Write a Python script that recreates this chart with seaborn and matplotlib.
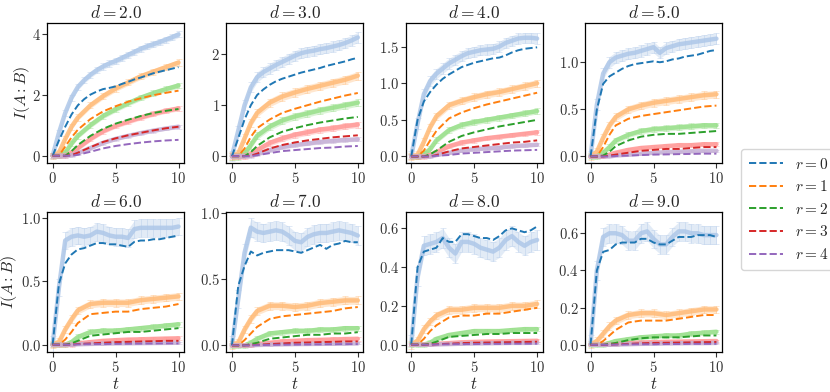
import numpy as np
import matplotlib
matplotlib.use("Agg")
import matplotlib.pyplot as plt
import seaborn as sns

# ---------------- data ----------------
t_fine = [0, 0.5, 1, 1.5, 2, 2.5, 3, 3.5, 4, 4.5, 5, 5.5, 6, 6.5, 7, 7.5, 8, 8.5, 9, 9.5, 10]
t_coarse = [0, 0.5, 1, 1.5, 2, 3, 4, 5, 6, 7, 8, 9, 10]
d_values = [2.0, 3.0, 4.0, 5.0, 6.0, 7.0, 8.0, 9.0]
r_values = [0, 1, 2, 3, 4]

# simulated (light bands): r=0 on t_fine, r>=1 on t_coarse
sim_d2 = [[0, 0.75, 1.4, 1.9, 2.25, 2.47, 2.65, 2.8, 2.92, 3.02, 3.1, 3.2, 3.3, 3.4, 3.5, 3.58, 3.65, 3.72, 3.8, 3.88, 3.97],
          [0, 0.1, 0.55, 0.95, 1.25, 1.65, 1.95, 2.2, 2.4, 2.6, 2.75, 2.9, 3.05],
          [0, 0, 0.1, 0.4, 0.65, 1.0, 1.3, 1.52, 1.72, 1.9, 2.05, 2.18, 2.3],
          [0, 0, 0, 0.1, 0.25, 0.55, 0.8, 0.98, 1.12, 1.25, 1.37, 1.47, 1.55],
          [0, 0, 0, 0.02, 0.08, 0.25, 0.42, 0.55, 0.65, 0.74, 0.82, 0.89, 0.95]]
sim_d3 = [[0, 0.5, 1.0, 1.35, 1.55, 1.65, 1.72, 1.79, 1.85, 1.91, 1.97, 2.02, 2.05, 2.07, 2.1, 2.12, 2.15, 2.18, 2.22, 2.27, 2.33],
          [0, 0.05, 0.35, 0.65, 0.85, 1.05, 1.17, 1.25, 1.32, 1.38, 1.44, 1.5, 1.58],
          [0, 0, 0.05, 0.22, 0.4, 0.58, 0.7, 0.78, 0.84, 0.9, 0.95, 1.0, 1.05],
          [0, 0, 0, 0.04, 0.12, 0.26, 0.35, 0.42, 0.47, 0.52, 0.55, 0.59, 0.62],
          [0, 0, 0, 0.01, 0.04, 0.12, 0.18, 0.22, 0.25, 0.28, 0.3, 0.32, 0.33]]
sim_d4 = [[0, 0.45, 0.85, 1.03, 1.13, 1.2, 1.27, 1.32, 1.37, 1.41, 1.43, 1.45, 1.46, 1.47, 1.5, 1.55, 1.58, 1.61, 1.62, 1.62, 1.61],
          [0, 0.02, 0.2, 0.4, 0.55, 0.7, 0.76, 0.81, 0.85, 0.88, 0.92, 0.96, 1.0],
          [0, 0, 0.03, 0.1, 0.22, 0.36, 0.43, 0.47, 0.5, 0.53, 0.56, 0.59, 0.62],
          [0, 0, 0, 0.02, 0.06, 0.14, 0.19, 0.22, 0.25, 0.27, 0.29, 0.31, 0.33],
          [0, 0, 0, 0, 0.02, 0.05, 0.08, 0.1, 0.11, 0.12, 0.14, 0.15, 0.16]]
sim_d5 = [[0, 0.55, 0.88, 1.0, 1.05, 1.07, 1.09, 1.1, 1.12, 1.14, 1.16, 1.1, 1.15, 1.17, 1.19, 1.2, 1.21, 1.22, 1.23, 1.24, 1.25],
          [0, 0.05, 0.2, 0.33, 0.42, 0.5, 0.54, 0.57, 0.59, 0.61, 0.63, 0.65, 0.66],
          [0, 0, 0.04, 0.1, 0.17, 0.23, 0.27, 0.29, 0.3, 0.31, 0.32, 0.33, 0.33],
          [0, 0, 0, 0.02, 0.04, 0.07, 0.09, 0.1, 0.11, 0.12, 0.12, 0.13, 0.13],
          [0, 0, 0, 0, 0.01, 0.02, 0.03, 0.04, 0.045, 0.05, 0.055, 0.06, 0.06]]
sim_d6 = [[0, 0.45, 0.82, 0.85, 0.86, 0.85, 0.86, 0.89, 0.88, 0.86, 0.85, 0.85, 0.84, 0.91, 0.92, 0.92, 0.92, 0.92, 0.92, 0.92, 0.93],
          [0, 0.02, 0.12, 0.2, 0.27, 0.32, 0.33, 0.33, 0.33, 0.35, 0.36, 0.37, 0.38],
          [0, 0, 0, 0.02, 0.06, 0.1, 0.11, 0.11, 0.12, 0.13, 0.14, 0.15, 0.16],
          [0, 0, 0, 0, 0.01, 0.02, 0.03, 0.035, 0.04, 0.042, 0.045, 0.048, 0.05],
          [0, 0, 0, 0, 0.003, 0.006, 0.008, 0.01, 0.011, 0.012, 0.013, 0.014, 0.015]]
sim_d7 = [[0, 0.35, 0.7, 0.89, 0.86, 0.85, 0.86, 0.87, 0.86, 0.83, 0.79, 0.78, 0.82, 0.84, 0.85, 0.85, 0.86, 0.87, 0.86, 0.85, 0.83],
          [0, 0.02, 0.12, 0.2, 0.26, 0.3, 0.3, 0.29, 0.3, 0.32, 0.33, 0.34, 0.34],
          [0, 0, 0, 0.02, 0.05, 0.09, 0.1, 0.11, 0.11, 0.12, 0.12, 0.13, 0.13],
          [0, 0, 0, 0, 0.01, 0.02, 0.03, 0.035, 0.04, 0.042, 0.045, 0.048, 0.05],
          [0, 0, 0, 0, 0.003, 0.006, 0.008, 0.01, 0.011, 0.012, 0.013, 0.014, 0.015]]
sim_d8 = [[0, 0.35, 0.51, 0.52, 0.53, 0.55, 0.5, 0.47, 0.53, 0.53, 0.52, 0.5, 0.49, 0.48, 0.5, 0.54, 0.56, 0.53, 0.51, 0.53, 0.54],
          [0, 0.02, 0.08, 0.12, 0.15, 0.18, 0.18, 0.19, 0.19, 0.19, 0.2, 0.2, 0.21],
          [0, 0, 0, 0.01, 0.03, 0.05, 0.06, 0.07, 0.07, 0.07, 0.075, 0.08, 0.08],
          [0, 0, 0, 0, 0.004, 0.008, 0.012, 0.014, 0.016, 0.017, 0.018, 0.019, 0.02],
          [0, 0, 0, 0, 0.001, 0.003, 0.005, 0.006, 0.007, 0.008, 0.009, 0.009, 0.01]]
sim_d9 = [[0, 0.4, 0.58, 0.6, 0.6, 0.59, 0.56, 0.56, 0.6, 0.61, 0.57, 0.54, 0.54, 0.58, 0.61, 0.61, 0.6, 0.6, 0.59, 0.59, 0.59],
          [0, 0.02, 0.06, 0.1, 0.13, 0.16, 0.17, 0.17, 0.16, 0.17, 0.18, 0.19, 0.19],
          [0, 0, 0, 0.01, 0.02, 0.03, 0.04, 0.045, 0.05, 0.05, 0.06, 0.065, 0.07],
          [0, 0, 0, 0, 0.004, 0.008, 0.012, 0.014, 0.016, 0.017, 0.018, 0.019, 0.02],
          [0, 0, 0, 0, 0.001, 0.003, 0.005, 0.006, 0.007, 0.008, 0.009, 0.009, 0.01]]

# approximation (dashed lines)
approx_d2 = [[0, 0.5, 0.95, 1.35, 1.65, 1.85, 2.0, 2.1, 2.18, 2.22, 2.27, 2.35, 2.42, 2.5, 2.56, 2.63, 2.7, 2.75, 2.8, 2.85, 2.9],
             [0, 0, 0.3, 0.6, 0.85, 1.2, 1.45, 1.62, 1.77, 1.88, 1.98, 2.06, 2.13],
             [0, 0, 0, 0.15, 0.35, 0.65, 0.88, 1.05, 1.18, 1.3, 1.4, 1.47, 1.53],
             [0, 0, 0, 0.02, 0.1, 0.28, 0.45, 0.57, 0.67, 0.75, 0.83, 0.9, 0.95],
             [0, 0, 0, 0, 0.03, 0.13, 0.24, 0.32, 0.38, 0.43, 0.47, 0.5, 0.52]]
approx_d3 = [[0, 0.35, 0.72, 1.0, 1.2, 1.31, 1.4, 1.47, 1.52, 1.56, 1.6, 1.64, 1.67, 1.7, 1.73, 1.77, 1.8, 1.83, 1.86, 1.9, 1.93],
             [0, 0, 0.15, 0.38, 0.55, 0.72, 0.85, 0.93, 1.0, 1.07, 1.13, 1.19, 1.24],
             [0, 0, 0, 0.08, 0.2, 0.37, 0.48, 0.55, 0.61, 0.66, 0.7, 0.74, 0.77],
             [0, 0, 0, 0.01, 0.05, 0.15, 0.22, 0.27, 0.31, 0.34, 0.37, 0.39, 0.41],
             [0, 0, 0, 0, 0.02, 0.06, 0.1, 0.12, 0.14, 0.16, 0.17, 0.19, 0.2]]
approx_d4 = [[0, 0.5, 0.75, 0.88, 0.98, 1.06, 1.12, 1.17, 1.22, 1.25, 1.28, 1.3, 1.32, 1.34, 1.35, 1.38, 1.42, 1.45, 1.47, 1.48, 1.49],
             [0, 0, 0.08, 0.22, 0.35, 0.52, 0.6, 0.66, 0.71, 0.75, 0.79, 0.83, 0.87],
             [0, 0, 0, 0.03, 0.08, 0.2, 0.28, 0.33, 0.37, 0.41, 0.44, 0.47, 0.5],
             [0, 0, 0, 0, 0.02, 0.07, 0.11, 0.13, 0.15, 0.17, 0.19, 0.2, 0.22],
             [0, 0, 0, 0, 0.01, 0.02, 0.04, 0.05, 0.06, 0.07, 0.08, 0.085, 0.09]]
approx_d5 = [[0, 0.5, 0.77, 0.85, 0.89, 0.93, 0.96, 0.98, 0.99, 1.0, 1.01, 1.0, 1.01, 1.03, 1.04, 1.06, 1.07, 1.08, 1.1, 1.12, 1.13],
             [0, 0, 0.1, 0.23, 0.33, 0.4, 0.43, 0.45, 0.47, 0.49, 0.51, 0.53, 0.54],
             [0, 0, 0.01, 0.05, 0.11, 0.17, 0.21, 0.23, 0.24, 0.24, 0.25, 0.26, 0.27],
             [0, 0, 0, 0.01, 0.02, 0.04, 0.06, 0.07, 0.08, 0.08, 0.09, 0.1, 0.1],
             [0, 0, 0, 0, 0.005, 0.01, 0.015, 0.02, 0.022, 0.025, 0.027, 0.03, 0.03]]
approx_d6 = [[0, 0.48, 0.64, 0.71, 0.75, 0.76, 0.78, 0.8, 0.8, 0.79, 0.79, 0.78, 0.77, 0.81, 0.82, 0.82, 0.83, 0.83, 0.84, 0.85, 0.86],
             [0, 0, 0.04, 0.1, 0.17, 0.24, 0.25, 0.26, 0.26, 0.28, 0.29, 0.3, 0.32],
             [0, 0, 0, 0.01, 0.03, 0.07, 0.08, 0.09, 0.1, 0.1, 0.11, 0.12, 0.13],
             [0, 0, 0, 0, 0.005, 0.01, 0.015, 0.02, 0.022, 0.025, 0.027, 0.03, 0.03],
             [0, 0, 0, 0, 0.002, 0.004, 0.005, 0.006, 0.007, 0.008, 0.009, 0.01, 0.01]]
approx_d7 = [[0, 0.45, 0.6, 0.71, 0.68, 0.7, 0.71, 0.72, 0.72, 0.72, 0.71, 0.7, 0.72, 0.74, 0.76, 0.73, 0.76, 0.77, 0.79, 0.78, 0.78],
             [0, 0, 0.04, 0.09, 0.14, 0.2, 0.22, 0.23, 0.24, 0.25, 0.26, 0.28, 0.29],
             [0, 0, 0, 0.01, 0.02, 0.05, 0.06, 0.07, 0.08, 0.08, 0.09, 0.09, 0.1],
             [0, 0, 0, 0, 0.005, 0.01, 0.015, 0.02, 0.022, 0.025, 0.027, 0.03, 0.03],
             [0, 0, 0, 0, 0.002, 0.004, 0.005, 0.006, 0.007, 0.008, 0.009, 0.01, 0.01]]
approx_d8 = [[0, 0.4, 0.48, 0.49, 0.5, 0.55, 0.53, 0.53, 0.57, 0.57, 0.56, 0.55, 0.55, 0.54, 0.56, 0.59, 0.6, 0.59, 0.58, 0.59, 0.61],
             [0, 0, 0.03, 0.07, 0.1, 0.14, 0.15, 0.15, 0.16, 0.16, 0.17, 0.18, 0.19],
             [0, 0, 0, 0.005, 0.015, 0.04, 0.045, 0.05, 0.055, 0.055, 0.06, 0.06, 0.06],
             [0, 0, 0, 0, 0.002, 0.005, 0.008, 0.01, 0.011, 0.012, 0.013, 0.014, 0.015],
             [0, 0, 0, 0, 0.001, 0.002, 0.003, 0.003, 0.004, 0.004, 0.005, 0.005, 0.005]]
approx_d9 = [[0, 0.4, 0.5, 0.51, 0.54, 0.55, 0.55, 0.55, 0.57, 0.57, 0.55, 0.54, 0.54, 0.56, 0.58, 0.58, 0.58, 0.59, 0.59, 0.59, 0.58],
             [0, 0, 0.02, 0.05, 0.08, 0.12, 0.13, 0.13, 0.13, 0.14, 0.15, 0.16, 0.16],
             [0, 0, 0, 0.005, 0.01, 0.025, 0.035, 0.04, 0.04, 0.04, 0.045, 0.05, 0.05],
             [0, 0, 0, 0, 0.002, 0.005, 0.008, 0.01, 0.011, 0.012, 0.013, 0.014, 0.015],
             [0, 0, 0, 0, 0.001, 0.002, 0.003, 0.003, 0.004, 0.004, 0.005, 0.005, 0.005]]

# spread (standard deviation) of the simulated bands
err_d2 = [0.1, 0.1, 0.09, 0.08, 0.06]
err_d3 = [0.1, 0.08, 0.07, 0.06, 0.04]
err_d4 = [0.07, 0.05, 0.04, 0.03, 0.02]
err_d5 = [0.06, 0.04, 0.03, 0.02, 0.01]
err_d6 = [0.07, 0.03, 0.02, 0.015, 0.008]
err_d7 = [0.07, 0.03, 0.02, 0.015, 0.008]
err_d8 = [0.05, 0.02, 0.012, 0.008, 0.005]
err_d9 = [0.05, 0.02, 0.012, 0.008, 0.005]

y_ticks = [[0, 2, 4], [0, 1, 2], [0, 0.5, 1.0, 1.5], [0, 0.5, 1.0],
           [0, 0.5, 1.0], [0, 0.5, 1.0], [0, 0.2, 0.4, 0.6], [0, 0.2, 0.4, 0.6]]
y_limits = [(-0.24, 4.34), (-0.135, 2.61), (-0.09, 1.82), (-0.07, 1.415),
            (-0.058, 1.044), (-0.05, 1.008), (-0.038, 0.684), (-0.039, 0.714)]
x_ticks = [0, 5, 10]

sims = [sim_d2, sim_d3, sim_d4, sim_d5, sim_d6, sim_d7, sim_d8, sim_d9]
approxs = [approx_d2, approx_d3, approx_d4, approx_d5, approx_d6, approx_d7, approx_d8, approx_d9]
errs = [err_d2, err_d3, err_d4, err_d5, err_d6, err_d7, err_d8, err_d9]

dark = ["#1f77b4", "#ff7f0e", "#2ca02c", "#d62728", "#9467bd"]
light = ["#aec7e8", "#ffbb78", "#98df8a", "#ff9896", "#c5b0d5"]

# ---------------- style ----------------
sns.set_style("ticks")
plt.rcParams.update({
    "font.family": "serif",
    "font.serif": ["cmr10", "DejaVu Serif"],
    "mathtext.fontset": "cm",
    "axes.unicode_minus": False,
    "axes.formatter.use_mathtext": True,
    "xtick.labelsize": 10.5,
    "ytick.labelsize": 10.5,
    "axes.edgecolor": "black",
    "xtick.color": "#333333",
    "ytick.color": "#333333",
})

fig, axes = plt.subplots(2, 4, figsize=(8.3, 3.92), dpi=100)
fig.subplots_adjust(left=0.0566, right=0.87, top=0.941, bottom=0.102,
                    wspace=0.307, hspace=0.35)

for i, ax in enumerate(axes.flat):
    for r in r_values:
        t = np.array(t_fine if r == 0 else t_coarse)
        y = np.array(sims[i][r])
        e = errs[i][r]
        ax.fill_between(t, y - e, y + e, color=light[r], alpha=0.35, lw=0)
        ax.errorbar(t, y, yerr=e, color=light[r], alpha=0.45, capsize=2.0,
                    lw=0, elinewidth=0.6, capthick=0.6)
        ax.plot(t, y, color=light[r], lw=3.2, alpha=0.85, solid_capstyle="round")
    for r in r_values:
        t = t_fine if r == 0 else t_coarse
        sns.lineplot(x=t, y=approxs[i][r], color=dark[r], linestyle="--",
                     lw=1.4, ax=ax, label=rf"$r = {r}$")
    if ax.get_legend() is not None:
        ax.get_legend().remove()
    ax.set_title(rf"$d = {d_values[i]:.1f}$", fontsize=12.5, pad=4)
    ax.set_xticks(x_ticks)
    ax.set_yticks(y_ticks[i])
    ax.set_ylim(*y_limits[i])
    ax.set_xlim(-0.45, 10.45)
    ax.tick_params(length=3.5, width=0.8)
    ax.tick_params(axis="y", pad=1)
    ax.tick_params(axis="x", pad=2)
    for s in ax.spines.values():
        s.set_linewidth(0.9)
    ax.set_xlabel("")
    ax.set_ylabel("")

axes[0, 0].set_ylabel(r"$I(A:B)$", fontsize=11.5)
axes[0, 0].yaxis.set_label_coords(-0.11, 0.5)
axes[1, 0].set_ylabel(r"$I(A:B)$", fontsize=11.5)
axes[1, 0].yaxis.set_label_coords(-0.205, 0.5)
for ax in axes[1, :]:
    ax.set_xlabel(r"$t$", fontsize=12, labelpad=1)

handles, labels = axes[0, 0].get_legend_handles_labels()
fig.legend(handles, labels, loc="center left", bbox_to_anchor=(0.884, 0.466),
           fontsize=11, frameon=True, handlelength=2.2, borderpad=0.5,
           labelspacing=0.5, handletextpad=0.8)

fig.savefig("out.png", dpi=100)
